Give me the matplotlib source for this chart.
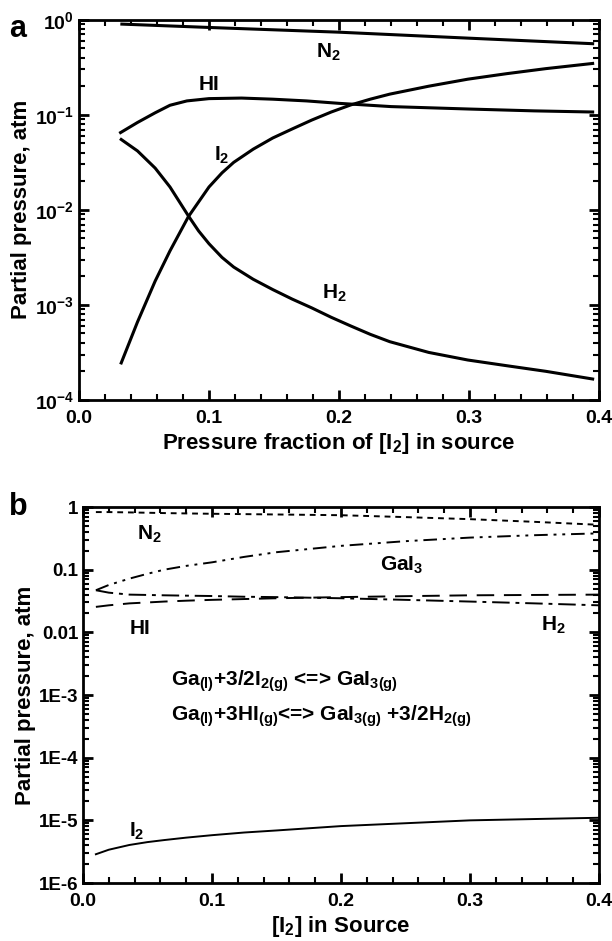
import numpy as np
import matplotlib
matplotlib.use("Agg")
import matplotlib.pyplot as plt
from matplotlib.ticker import LogLocator, MultipleLocator, NullFormatter, FixedFormatter

plt.rcParams['font.family'] = ['Liberation Sans', 'DejaVu Sans']
plt.rcParams['font.weight'] = 'bold'
plt.rcParams['axes.labelweight'] = 'bold'
plt.rcParams['mathtext.default'] = 'regular'

# panel a: equilibrium partial pressures vs pressure fraction of I2
a_n2_x = [0.033, 0.1, 0.2, 0.3, 0.395]
a_n2_y = [0.90, 0.83, 0.74, 0.64, 0.56]

a_hi_x = [0.032, 0.045, 0.0586, 0.07, 0.083, 0.1, 0.125, 0.149, 0.175, 0.2, 0.24, 0.3, 0.35, 0.395]
a_hi_y = [0.065, 0.083, 0.105, 0.126, 0.140, 0.148, 0.150, 0.146, 0.140, 0.132, 0.122, 0.115, 0.110, 0.107]

a_i2_x = [0.0325, 0.045, 0.0586, 0.07, 0.0842, 0.1, 0.11, 0.119, 0.134, 0.149, 0.164, 0.179, 0.194, 0.209,
          0.224, 0.239, 0.269, 0.299, 0.329, 0.359, 0.395]
a_i2_y = [2.45e-4, 6.6e-4, 1.78e-3, 3.7e-3, 8.5e-3, 0.0174, 0.0245, 0.0316, 0.0435, 0.057, 0.071, 0.088,
          0.107, 0.127, 0.146, 0.165, 0.200, 0.237, 0.271, 0.306, 0.347]

a_h2_x = [0.0325, 0.045, 0.0586, 0.07, 0.084, 0.092, 0.1, 0.11, 0.119, 0.134, 0.149, 0.164, 0.179, 0.194,
          0.209, 0.224, 0.239, 0.269, 0.299, 0.329, 0.359, 0.395]
a_h2_y = [0.055, 0.0417, 0.0275, 0.0174, 8.7e-3, 6.0e-3, 4.4e-3, 3.16e-3, 2.5e-3, 1.86e-3, 1.45e-3, 1.15e-3,
          9.3e-4, 7.4e-4, 6.0e-4, 4.9e-4, 4.1e-4, 3.16e-4, 2.63e-4, 2.29e-4, 2.0e-4, 1.66e-4]

# panel b: with Ga(l) in the source
b_x = [0.01, 0.02, 0.036, 0.05, 0.063, 0.08, 0.1, 0.125, 0.15, 0.2, 0.25, 0.3, 0.35, 0.4]
b_n2 = [0.83, 0.83, 0.82, 0.81, 0.80, 0.79, 0.78, 0.77, 0.76, 0.74, 0.69, 0.64, 0.58, 0.52]
b_gai3 = [0.047, 0.057, 0.072, 0.086, 0.100, 0.115, 0.131, 0.160, 0.19, 0.24, 0.285, 0.325, 0.355, 0.38]
b_h2 = [0.047, 0.043, 0.040, 0.0395, 0.039, 0.0385, 0.038, 0.037, 0.0365, 0.035, 0.033, 0.031, 0.029, 0.027]
b_hi = [0.0255, 0.027, 0.029, 0.030, 0.031, 0.032, 0.033, 0.034, 0.035, 0.0365, 0.0378, 0.039, 0.0395, 0.040]
b_i2 = [2.88e-6, 3.4e-6, 4.05e-6, 4.5e-6, 4.85e-6, 5.3e-6, 5.8e-6, 6.4e-6, 6.9e-6, 8.1e-6, 9.0e-6, 1.0e-5,
        1.05e-5, 1.1e-5]

b_ticks = [1, 0.1, 0.01, 1e-3, 1e-4, 1e-5, 1e-6]
b_ticklabels = ['1', '0.1', '0.01', '1E-3', '1E-4', '1E-5', '1E-6']


def style_axes(ax):
    for sp in ax.spines.values():
        sp.set_linewidth(2)
    ax.xaxis.set_major_locator(MultipleLocator(0.1))
    ax.xaxis.set_minor_locator(MultipleLocator(0.02))
    ax.yaxis.set_minor_locator(LogLocator(base=10, subs=np.arange(2, 10)))
    ax.yaxis.set_minor_formatter(NullFormatter())
    ax.tick_params(which='both', direction='in', top=True, right=True, labelsize=14)
    ax.tick_params(which='major', length=7, width=2)
    ax.tick_params(which='minor', length=4, width=1.5)
    ax.tick_params(axis='x', pad=7)


fig = plt.figure(figsize=(6.12, 9.41), dpi=100)

ax1 = fig.add_axes([0.129, 0.575, 0.850, 0.404])
lw = 2.2
ax1.plot(a_n2_x, a_n2_y, color='black', lw=lw)
ax1.plot(a_hi_x, a_hi_y, color='black', lw=lw)
ax1.plot(a_i2_x, a_i2_y, color='black', lw=lw)
ax1.plot(a_h2_x, a_h2_y, color='black', lw=lw)
ax1.set_yscale('log')
ax1.set_xlim(0, 0.4)
ax1.set_ylim(1e-4, 1)
style_axes(ax1)
ax1.set_xlabel('Pressure fraction of [I$_2$] in source', fontsize=16, labelpad=3)
ax1.set_ylabel('Partial pressure, atm', fontsize=16, labelpad=2)
ax1.text(0.182, 0.45, 'N$_2$', fontsize=15, ha='left', va='center')
ax1.text(0.092, 0.21, 'HI', fontsize=15, ha='left', va='center')
ax1.text(0.104, 0.037, 'I$_2$', fontsize=15, ha='left', va='center')
ax1.text(0.187, 1.33e-3, 'H$_2$', fontsize=15, ha='left', va='center')
fig.text(0.015, 0.985, 'a', fontsize=22, ha='left', va='top')

ax2 = fig.add_axes([0.1356, 0.0616, 0.843, 0.3996])
lw2 = 1.4
ax2.plot(b_x, b_n2, color='black', lw=lw2, dashes=(3, 2.5))
ax2.plot(b_x, b_gai3, color='black', lw=lw2, dashes=(7, 3, 1.5, 3, 1.5, 3))
ax2.plot(b_x, b_h2, color='black', lw=lw2, dashes=(9, 3, 2, 3))
ax2.plot(b_x, b_hi, color='black', lw=lw2, dashes=(9, 5))
ax2.plot(b_x, b_i2, color='black', lw=lw2)
ax2.set_yscale('log')
ax2.set_xlim(0, 0.4)
ax2.set_ylim(1e-6, 1)
style_axes(ax2)
ax2.set_yticks(b_ticks)
ax2.yaxis.set_major_formatter(FixedFormatter(b_ticklabels))
ax2.tick_params(axis='y', labelsize=13.5)
ax2.set_xlabel('[I$_2$] in Source', fontsize=16, labelpad=3)
ax2.set_ylabel('Partial pressure, atm', fontsize=16, labelpad=2)
ax2.text(0.042, 0.37, 'N$_2$', fontsize=15, ha='left', va='center')
ax2.text(0.23, 0.116, 'GaI$_3$', fontsize=15, ha='left', va='center')
ax2.text(0.036, 0.0116, 'HI', fontsize=15, ha='left', va='center')
ax2.text(0.355, 0.013, 'H$_2$', fontsize=15, ha='left', va='center')
ax2.text(0.036, 6.6e-6, 'I$_2$', fontsize=15, ha='left', va='center')
ax2.text(0.068, 1.65e-3, 'Ga$_{(l)}$+3/2I$_{2(g)}$ <=> GaI$_{3(g)}$', fontsize=15, ha='left', va='center')
ax2.text(0.068, 4.6e-4, 'Ga$_{(l)}$+3HI$_{(g)}$<=> GaI$_{3(g)}$ +3/2H$_{2(g)}$', fontsize=15,
         ha='left', va='center')
fig.text(0.015, 0.477, 'b', fontsize=22, ha='left', va='top')

fig.savefig('out.png', dpi=100)
